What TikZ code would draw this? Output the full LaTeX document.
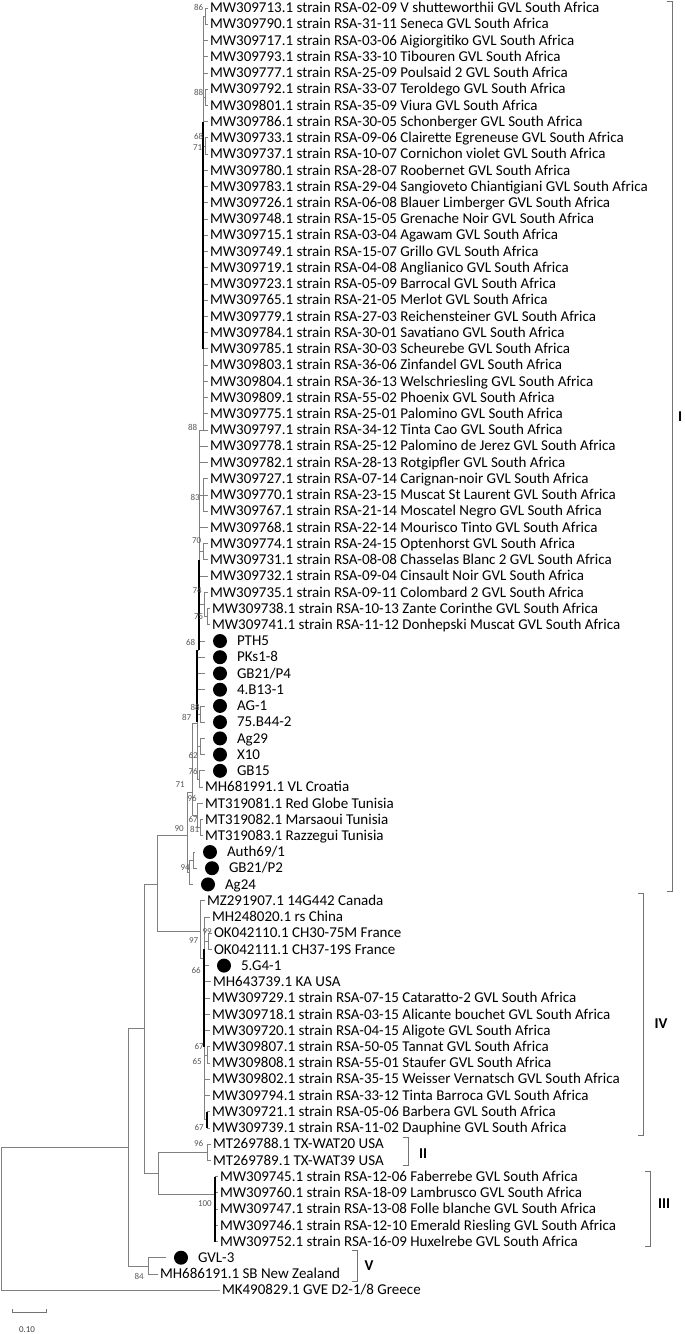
\documentclass[tikz,border=0pt]{standalone}
\usepackage{fontspec}
\setmainfont{Carlito}
\usepackage{tikz}
\usetikzlibrary{positioning}

\begin{document}
\begin{tikzpicture}[
    x=1pt, y=-1pt,
    leaf/.style={anchor=west, inner sep=0pt, outer xsep=2pt, text height=9.5pt, text depth=0pt, font=\fontsize{15}{15}\selectfont},
    dot/.style={circle, fill=black, minimum size=14pt, inner sep=0pt, outer sep=8pt},
    branch/.style={draw=black!50, line width=0.8pt},
    dark/.style={draw=black, line width=1.3pt},
    boot/.style={anchor=east, inner sep=0pt, text=black!65, font=\fontsize{9}{9}\selectfont},
    bracket/.style={draw=black!55, line width=0.8pt},
    clade/.style={inner sep=0pt, font=\bfseries\fontsize{15}{15}\selectfont}
]
    \useasboundingbox (0,0) rectangle (685,1334);

    % leaves of clade I
    \node[leaf] (l1) at (208,8.0) {MW309713.1 strain RSA-02-09 V shutteworthii GVL South Africa};
    \node[leaf] (l2) at (208,24.2) {MW309790.1 strain RSA-31-11 Seneca GVL South Africa};
    \node[leaf] (l3) at (208,40.5) {MW309717.1 strain RSA-03-06 Aigiorgitiko GVL South Africa};
    \node[leaf] (l4) at (208,56.7) {MW309793.1 strain RSA-33-10 Tibouren GVL South Africa};
    \node[leaf] (l5) at (208,72.9) {MW309777.1 strain RSA-25-09 Poulsaid 2 GVL South Africa};
    \node[leaf] (l6) at (208,89.2) {MW309792.1 strain RSA-33-07 Teroldego GVL South Africa};
    \node[leaf] (l7) at (208,105.4) {MW309801.1 strain RSA-35-09 Viura GVL South Africa};
    \node[leaf] (l8) at (208,121.6) {MW309786.1 strain RSA-30-05 Schonberger GVL South Africa};
    \node[leaf] (l9) at (208,137.8) {MW309733.1 strain RSA-09-06 Clairette Egreneuse GVL South Africa};
    \node[leaf] (l10) at (208,154.1) {MW309737.1 strain RSA-10-07 Cornichon violet GVL South Africa};
    \node[leaf] (l11) at (208,170.3) {MW309780.1 strain RSA-28-07 Roobernet GVL South Africa};
    \node[leaf] (l12) at (208,186.5) {MW309783.1 strain RSA-29-04 Sangioveto Chiantigiani GVL South Africa};
    \node[leaf] (l13) at (208,202.8) {MW309726.1 strain RSA-06-08 Blauer Limberger GVL South Africa};
    \node[leaf] (l14) at (208,219.0) {MW309748.1 strain RSA-15-05 Grenache Noir GVL South Africa};
    \node[leaf] (l15) at (208,235.2) {MW309715.1 strain RSA-03-04 Agawam GVL South Africa};
    \node[leaf] (l16) at (208,251.5) {MW309749.1 strain RSA-15-07 Grillo GVL South Africa};
    \node[leaf] (l17) at (208,267.7) {MW309719.1 strain RSA-04-08 Anglianico GVL South Africa};
    \node[leaf] (l18) at (208,283.9) {MW309723.1 strain RSA-05-09 Barrocal GVL South Africa};
    \node[leaf] (l19) at (208,300.1) {MW309765.1 strain RSA-21-05 Merlot GVL South Africa};
    \node[leaf] (l20) at (208,316.4) {MW309779.1 strain RSA-27-03 Reichensteiner GVL South Africa};
    \node[leaf] (l21) at (208,332.6) {MW309784.1 strain RSA-30-01 Savatiano GVL South Africa};
    \node[leaf] (l22) at (208,348.8) {MW309785.1 strain RSA-30-03 Scheurebe GVL South Africa};
    \node[leaf] (l23) at (208,365.1) {MW309803.1 strain RSA-36-06 Zinfandel GVL South Africa};
    \node[leaf] (l24) at (208,381.3) {MW309804.1 strain RSA-36-13 Welschriesling GVL South Africa};
    \node[leaf] (l25) at (208,397.5) {MW309809.1 strain RSA-55-02 Phoenix GVL South Africa};
    \node[leaf] (l26) at (208,413.8) {MW309775.1 strain RSA-25-01 Palomino GVL South Africa};
    \node[leaf] (l27) at (208,430.0) {MW309797.1 strain RSA-34-12 Tinta Cao GVL South Africa};
    \node[leaf] (l28) at (208,446.2) {MW309778.1 strain RSA-25-12 Palomino de Jerez GVL South Africa};
    \node[leaf] (l29) at (208,462.4) {MW309782.1 strain RSA-28-13 Rotgipfler GVL South Africa};
    \node[leaf] (l30) at (208,478.7) {MW309727.1 strain RSA-07-14 Carignan-noir GVL South Africa};
    \node[leaf] (l31) at (208,494.9) {MW309770.1 strain RSA-23-15 Muscat St Laurent GVL South Africa};
    \node[leaf] (l32) at (208,511.1) {MW309767.1 strain RSA-21-14 Moscatel Negro GVL South Africa};
    \node[leaf] (l33) at (208,527.4) {MW309768.1 strain RSA-22-14 Mourisco Tinto GVL South Africa};
    \node[leaf] (l34) at (208,543.6) {MW309774.1 strain RSA-24-15 Optenhorst GVL South Africa};
    \node[leaf] (l35) at (208,559.8) {MW309731.1 strain RSA-08-08 Chasselas Blanc 2 GVL South Africa};
    \node[leaf] (l36) at (208,576.1) {MW309732.1 strain RSA-09-04 Cinsault Noir GVL South Africa};
    \node[leaf] (l37) at (208,592.3) {MW309735.1 strain RSA-09-11 Colombard 2 GVL South Africa};
    \node[leaf] (l38) at (210,608.5) {MW309738.1 strain RSA-10-13 Zante Corinthe GVL South Africa};
    \node[leaf] (l39) at (210,624.7) {MW309741.1 strain RSA-11-12 Donhepski Muscat GVL South Africa};
    \node[dot] (d40) at (220,641.0) {};
    \node[leaf, right=0pt of d40] (l40) {PTH5};
    \node[dot] (d41) at (220,657.2) {};
    \node[leaf, right=0pt of d41] (l41) {PKs1-8};
    \node[dot] (d42) at (220,673.4) {};
    \node[leaf, right=0pt of d42] (l42) {GB21/P4};
    \node[dot] (d43) at (220,689.7) {};
    \node[leaf, right=0pt of d43] (l43) {4.B13-1};
    \node[dot] (d44) at (220,705.9) {};
    \node[leaf, right=0pt of d44] (l44) {AG-1};
    \node[dot] (d45) at (220,722.1) {};
    \node[leaf, right=0pt of d45] (l45) {75.B44-2};
    \node[dot] (d46) at (220,738.4) {};
    \node[leaf, right=0pt of d46] (l46) {Ag29};
    \node[dot] (d47) at (220,754.6) {};
    \node[leaf, right=0pt of d47] (l47) {X10};
    \node[dot] (d48) at (220,770.8) {};
    \node[leaf, right=0pt of d48] (l48) {GB15};
    \node[leaf] (l49) at (203,787.0) {MH681991.1 VL Croatia};
    \node[leaf] (l50) at (203,803.3) {MT319081.1 Red Globe Tunisia};
    \node[leaf] (l51) at (203,819.5) {MT319082.1 Marsaoui Tunisia};
    \node[leaf] (l52) at (203,835.7) {MT319083.1 Razzegui Tunisia};
    \node[dot] (d53) at (210,852.0) {};
    \node[leaf, right=0pt of d53] (l53) {Auth69/1};
    \node[dot] (d54) at (212,868.2) {};
    \node[leaf, right=0pt of d54] (l54) {GB21/P2};
    \node[dot] (d55) at (208,884.4) {};
    \node[leaf, right=0pt of d55] (l55) {Ag24};

    % leaves of clade IV
    \node[leaf] (l56) at (205,900.7) {MZ291907.1 14G442 Canada};
    \node[leaf] (l57) at (210,916.9) {MH248020.1 rs China};
    \node[leaf] (l58) at (212,933.1) {OK042110.1 CH30-75M France};
    \node[leaf] (l59) at (212,949.3) {OK042111.1 CH37-19S France};
    \node[dot] (d60) at (224,965.6) {};
    \node[leaf, right=0pt of d60] (l60) {5.G4-1};
    \node[leaf] (l61) at (211,981.8) {MH643739.1 KA USA};
    \node[leaf] (l62) at (210,998.0) {MW309729.1 strain RSA-07-15 Cataratto-2 GVL South Africa};
    \node[leaf] (l63) at (210,1014.3) {MW309718.1 strain RSA-03-15 Alicante bouchet GVL South Africa};
    \node[leaf] (l64) at (210,1030.5) {MW309720.1 strain RSA-04-15 Aligote GVL South Africa};
    \node[leaf] (l65) at (210,1046.7) {MW309807.1 strain RSA-50-05 Tannat GVL South Africa};
    \node[leaf] (l66) at (210,1063.0) {MW309808.1 strain RSA-55-01 Staufer GVL South Africa};
    \node[leaf] (l67) at (210,1079.2) {MW309802.1 strain RSA-35-15 Weisser Vernatsch GVL South Africa};
    \node[leaf] (l68) at (210,1095.4) {MW309794.1 strain RSA-33-12 Tinta Barroca GVL South Africa};
    \node[leaf] (l69) at (210,1111.7) {MW309721.1 strain RSA-05-06 Barbera GVL South Africa};
    \node[leaf] (l70) at (210,1127.9) {MW309739.1 strain RSA-11-02 Dauphine GVL South Africa};

    % leaves of clades II, III, V and outgroup
    \node[leaf] (l71) at (211,1144.1) {MT269788.1 TX-WAT20 USA};
    \node[leaf] (l72) at (211,1160.3) {MT269789.1 TX-WAT39 USA};
    \node[leaf] (l73) at (218,1176.6) {MW309745.1 strain RSA-12-06 Faberrebe GVL South Africa};
    \node[leaf] (l74) at (218,1192.8) {MW309760.1 strain RSA-18-09 Lambrusco GVL South Africa};
    \node[leaf] (l75) at (218,1209.0) {MW309747.1 strain RSA-13-08 Folle blanche GVL South Africa};
    \node[leaf] (l76) at (218,1225.3) {MW309746.1 strain RSA-12-10 Emerald Riesling GVL South Africa};
    \node[leaf] (l77) at (218,1241.5) {MW309752.1 strain RSA-16-09 Huxelrebe GVL South Africa};
    \node[dot] (d78) at (181,1257.7) {};
    \node[leaf, right=0pt of d78] (l78) {GVL-3};
    \node[leaf] (l79) at (158,1274.0) {MH686191.1 SB New Zealand};
    \node[leaf] (l80) at (220,1290.2) {MK490829.1 GVE D2-1/8 Greece};

    % internal nodes
    \coordinate (root) at (1,1147);
    \coordinate (nA) at (128,1147);
    \coordinate (nV) at (148,1265.9);
    \coordinate (nB) at (144,1028);
    \coordinate (nD) at (158,1173);
    \coordinate (nII) at (207,1152.2);
    \coordinate (nIII) at (215,1194);
    \coordinate (nC) at (157,884);
    \coordinate (nIV0) at (200,931);
    \coordinate (nIV1) at (204,958);
    \coordinate (n99) at (208,941.2);
    \coordinate (n67a) at (207,1054.9);
    \coordinate (n67b) at (207,1119.8);
    \coordinate (nI0) at (187,835);
    \coordinate (nI1) at (192,792);
    \coordinate (nI2) at (189,872.3);
    \coordinate (n94) at (193,860.1);
    \coordinate (nI1a) at (197,723);
    \coordinate (nI1b) at (197,815.5);
    \coordinate (n81) at (200,827.6);
    \coordinate (n88b) at (200,714.0);
    \coordinate (n62) at (200,746.5);
    \coordinate (n76) at (199,778.9);
    \coordinate (nT) at (199,650);
    \coordinate (nV1) at (203,430);
    \coordinate (n86) at (205,16.1);
    \coordinate (n88a) at (205,97.3);
    \coordinate (n68a) at (205,146.0);
    \coordinate (n83) at (203,494.9);
    \coordinate (n70) at (203,551.7);
    \coordinate (n74) at (204,604.5);
    \coordinate (n75) at (207,616.6);

    % branches
    \draw[branch] (root) -- (root |- l80.west) (root) -- (nA) (root |- l80.west) -- (l80.west);
    \draw[branch] (nA |- nB) -- (nA |- nV) (nA |- nB) -- (nB) (nA |- nV) -- (nV);
    \draw[branch] (nV |- d78) -- (nV |- l79.west) (nV |- d78) -- (d78.west) (nV |- l79.west) -- (l79.west);
    \draw[branch] (nB |- nC) -- (nB |- nD) (nB |- nC) -- (nC) (nB |- nD) -- (nD);
    \draw[branch] (nD |- nII) -- (nD |- nIII) (nD |- nII) -- (nII) (nD |- nIII) -- (nIII);
    \draw[branch] (nII |- l71.west) -- (nII |- l72.west) (nII |- l71.west) -- (l71.west) (nII |- l72.west) -- (l72.west);
    \draw[branch] (nIII |- l73.west) -- (nIII |- l77.west);
    \foreach \k in {73,...,77}
        \draw[branch] (nIII |- l\k.west) -- (l\k.west);
    \draw[dark] (nIII |- l73.west) -- (nIII |- l77.west);

    \draw[branch] (nC |- nI0) -- (nC |- nIV0) (nC |- nI0) -- (nI0) (nC |- nIV0) -- (nIV0);
    \draw[branch] (nIV0 |- l56.west) -- (nIV0 |- nIV1) (nIV0 |- l56.west) -- (l56.west) (nIV0 |- nIV1) -- (nIV1);
    \draw[branch] (nIV1 |- l57.west) -- (nIV1 |- n67b) (nIV1 |- n99) -- (n99) (nIV1 |- d60) -- (d60.west)
        (nIV1 |- n67a) -- (n67a) (nIV1 |- n67b) -- (n67b);
    \foreach \k in {57,61,62,63,64,67,68}
        \draw[branch] (nIV1 |- l\k.west) -- (l\k.west);
    \draw[branch] (n99 |- l58.west) -- (n99 |- l59.west) (n99 |- l58.west) -- (l58.west) (n99 |- l59.west) -- (l59.west);
    \draw[branch] (n67a |- l65.west) -- (n67a |- l66.west) (n67a |- l65.west) -- (l65.west) (n67a |- l66.west) -- (l66.west);
    \draw[branch] (n67b |- l69.west) -- (n67b |- l70.west) (n67b |- l69.west) -- (l69.west) (n67b |- l70.west) -- (l70.west);
    \draw[dark] (nIV1 |- l59.west) -- (nIV1 |- l65.west);
    \draw[dark] (n67b |- l69.west) -- (n67b |- l70.west);

    \draw[branch] (nI0 |- nI1) -- (nI0 |- nI2) (nI0 |- nI1) -- (nI1) (nI0 |- nI2) -- (nI2);
    \draw[branch] (nI1 |- nI1a) -- (nI1 |- nI1b) (nI1 |- nI1a) -- (nI1a) (nI1 |- nI1b) -- (nI1b);
    \draw[branch] (nI2 |- n94) -- (nI2 |- d55) (nI2 |- n94) -- (n94) (nI2 |- d55) -- (d55.west);
    \draw[branch] (n94 |- d53) -- (n94 |- d54) (n94 |- d53) -- (d53.west) (n94 |- d54) -- (d54.west);
    \draw[branch] (nI1b |- l50.west) -- (nI1b |- n81) (nI1b |- l50.west) -- (l50.west) (nI1b |- n81) -- (n81);
    \draw[branch] (n81 |- l51.west) -- (n81 |- l52.west) (n81 |- l51.west) -- (l51.west) (n81 |- l52.west) -- (l52.west);
    \draw[branch] (nI1a |- nT) -- (nI1a |- n76) (nI1a |- nT) -- (nT) (nI1a |- n88b) -- (n88b)
        (nI1a |- n62) -- (n62) (nI1a |- n76) -- (n76);
    \foreach \k in {41,42,43}
        \draw[branch] (nI1a |- d\k) -- (d\k.west);
    \draw[branch] (n88b |- d44) -- (n88b |- d45) (n88b |- d44) -- (d44.west) (n88b |- d45) -- (d45.west);
    \draw[branch] (n62 |- d46) -- (n62 |- d47) (n62 |- d46) -- (d46.west) (n62 |- d47) -- (d47.west);
    \draw[branch] (n76 |- d48) -- (n76 |- l49.west) (n76 |- d48) -- (d48.west) (n76 |- l49.west) -- (l49.west);
    \draw[dark] (nI1a |- nT) -- (nI1a |- d45);

    \draw[branch] (nT |- nV1) -- (nT) (nT |- nV1) -- (nV1) (nT |- n83) -- (n83) (nT |- n70) -- (n70)
        (nT |- n74) -- (n74) (nT |- d40) -- (d40.west);
    \foreach \k in {28,29,33,36}
        \draw[branch] (nT |- l\k.west) -- (l\k.west);
    \draw[branch] (n83 |- l30.west) -- (n83 |- l32.west);
    \foreach \k in {30,31,32}
        \draw[branch] (n83 |- l\k.west) -- (l\k.west);
    \draw[branch] (n70 |- l34.west) -- (n70 |- l35.west) (n70 |- l34.west) -- (l34.west) (n70 |- l35.west) -- (l35.west);
    \draw[branch] (n74 |- l37.west) -- (n74 |- n75) (n74 |- l37.west) -- (l37.west) (n74 |- n75) -- (n75);
    \draw[branch] (n75 |- l38.west) -- (n75 |- l39.west) (n75 |- l38.west) -- (l38.west) (n75 |- l39.west) -- (l39.west);
    \draw[dark] (nT |- l35.west) -- (nT);

    \draw[branch] (nV1 |- n86) -- (nV1) (nV1 |- n86) -- (n86) (nV1 |- n88a) -- (n88a) (nV1 |- n68a) -- (n68a);
    \foreach \k in {3,4,5,8,11,12,13,14,15,16,17,18,19,20,21,22,23,24,25,26,27}
        \draw[branch] (nV1 |- l\k.west) -- (l\k.west);
    \draw[branch] (n86 |- l1.west) -- (n86 |- l2.west) (n86 |- l1.west) -- (l1.west) (n86 |- l2.west) -- (l2.west);
    \draw[branch] (n88a |- l6.west) -- (n88a |- l7.west) (n88a |- l6.west) -- (l6.west) (n88a |- l7.west) -- (l7.west);
    \draw[branch] (n68a |- l9.west) -- (n68a |- l10.west) (n68a |- l9.west) -- (l9.west) (n68a |- l10.west) -- (l10.west);
    \draw[dark] (nV1 |- l8.west) -- (nV1 |- l22.west);

    % bootstrap values
    \node[boot] (b1) at (203.5,7) {86};
    \node[boot] (b2) at (203.5,92) {88};
    \node[boot] (b3) at (203.5,136) {68};
    \node[boot] (b4) at (202.5,147.5) {71};
    \node[boot] (b5) at (197.5,427) {88};
    \node[boot] (b6) at (200,497) {83};
    \node[boot] (b7) at (201.5,541) {70};
    \node[boot] (b8) at (202,591) {74};
    \node[boot] (b9) at (203.5,617) {75};
    \node[boot] (b10) at (195.5,642) {68};
    \node[boot] (b11) at (200,707) {88};
    \node[boot] (b12) at (191.5,717) {87};
    \node[boot] (b13) at (198,755) {62};
    \node[boot] (b14) at (198,771) {76};
    \node[boot] (b15) at (185,785) {71};
    \node[boot] (b16) at (197,798) {96};
    \node[boot] (b17) at (198,819) {67};
    \node[boot] (b18) at (199.5,829.5) {81};
    \node[boot] (b19) at (184,829) {90};
    \node[boot] (b20) at (190,868) {94};
    \node[boot] (b21) at (212,932) {99};
    \node[boot] (b22) at (198.5,941) {97};
    \node[boot] (b23) at (201,970) {66};
    \node[boot] (b24) at (204,1046) {67};
    \node[boot] (b25) at (202,1061) {65};
    \node[boot] (b26) at (204,1127) {67};
    \node[boot] (b27) at (203.5,1143) {96};
    \node[boot] (b28) at (212,1204) {100};
    \node[boot] (b29) at (144,1276) {84};

    % clade brackets
    \draw[bracket] (667,1) -- (672,1) -- (672,891) -- (667,891);
    \node[clade] (cI) at (680,417) {I};
    \draw[bracket] (638,893) -- (643,893) -- (643,1135) -- (638,1135);
    \node[clade] (cIV) at (661,1024) {IV};
    \draw[bracket] (403,1137) -- (408,1137) -- (408,1165) -- (403,1165);
    \node[clade] (cII) at (423,1154) {II};
    \draw[bracket] (645,1171) -- (650,1171) -- (650,1246) -- (645,1246);
    \node[clade] (cIII) at (664,1204) {III};
    \draw[bracket] (352,1250) -- (357,1250) -- (357,1281) -- (352,1281);
    \node[clade] (cV) at (369,1266) {V};

    % scale bar
    \draw[bracket] (12,1309) -- (12,1312) -- (46,1312) -- (46,1309);
    \node[boot, anchor=center, text=black!75] (scale) at (27,1330) {0.10};
\end{tikzpicture}
\end{document}
